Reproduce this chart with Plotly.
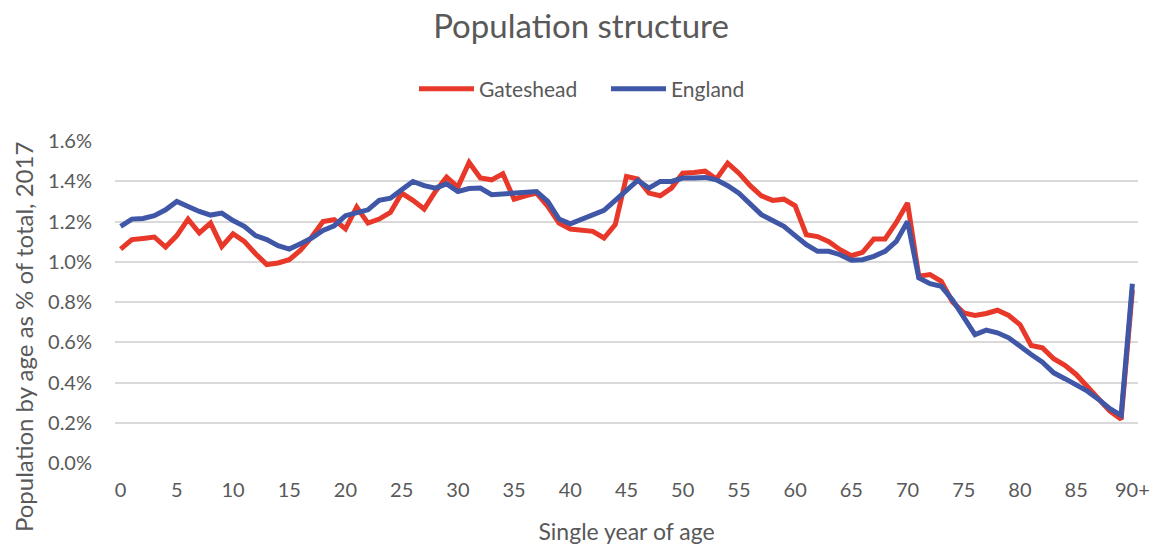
import plotly.graph_objects as go

# Single year of age categories (0..89, then 90+)
ages = [str(a) for a in range(90)] + ["90+"]

# Share of total population at each single year of age, 2017 (%)
gateshead = [
    1.063, 1.110, 1.116, 1.123, 1.073, 1.130, 1.212, 1.143, 1.192, 1.076,
    1.139, 1.101, 1.040, 0.986, 0.994, 1.010, 1.057, 1.123, 1.200, 1.209,
    1.163, 1.272, 1.192, 1.212, 1.245, 1.341, 1.305, 1.262, 1.349, 1.420,
    1.371, 1.493, 1.416, 1.407, 1.437, 1.311, 1.328, 1.341, 1.275, 1.192,
    1.163, 1.159, 1.151, 1.118, 1.184, 1.424, 1.411, 1.341, 1.328, 1.366,
    1.440, 1.444, 1.450, 1.411, 1.490, 1.440, 1.378, 1.328, 1.305, 1.311,
    1.278, 1.134, 1.125, 1.100, 1.060, 1.030, 1.047, 1.113, 1.113, 1.195,
    1.292, 0.928, 0.936, 0.903, 0.800, 0.746, 0.733, 0.743, 0.759, 0.733,
    0.688, 0.584, 0.572, 0.518, 0.485, 0.440, 0.379, 0.319, 0.258, 0.217,
    0.860,
]
england = [
    1.176, 1.212, 1.215, 1.229, 1.258, 1.300, 1.275, 1.250, 1.232, 1.242,
    1.205, 1.176, 1.130, 1.110, 1.080, 1.063, 1.090, 1.118, 1.156, 1.179,
    1.229, 1.242, 1.258, 1.305, 1.316, 1.358, 1.399, 1.378, 1.366, 1.387,
    1.349, 1.364, 1.366, 1.333, 1.338, 1.341, 1.349, 1.349, 1.300, 1.212,
    1.189, 1.209, 1.234, 1.255, 1.305, 1.358, 1.404, 1.366, 1.399, 1.399,
    1.416, 1.416, 1.419, 1.407, 1.378, 1.341, 1.288, 1.234, 1.205, 1.176,
    1.130, 1.085, 1.052, 1.052, 1.035, 1.007, 1.010, 1.027, 1.052, 1.101,
    1.200, 0.920, 0.891, 0.878, 0.810, 0.721, 0.638, 0.660, 0.647, 0.622,
    0.577, 0.539, 0.501, 0.448, 0.419, 0.390, 0.357, 0.316, 0.270, 0.237,
    0.891,
]

# Labelled ticks on both axes
x_ticks = ["0", "5", "10", "15", "20", "25", "30", "35", "40", "45",
           "50", "55", "60", "65", "70", "75", "80", "85", "90+"]
y_ticks = [0.0, 0.2, 0.4, 0.6, 0.8, 1.0, 1.2, 1.4, 1.6]
y_tick_labels = ["0.0%", "0.2%", "0.4%", "0.6%", "0.8%",
                 "1.0%", "1.2%", "1.4%", "1.6%"]

FONT = "Lato, 'Open Sans', sans-serif"
TEXT = "#595959"

fig = go.Figure()
fig.add_trace(go.Scatter(
    x=ages, y=gateshead, name="Gateshead", mode="lines",
    line=dict(color="#E8382A", width=5),
))
fig.add_trace(go.Scatter(
    x=ages, y=england, name="England", mode="lines",
    line=dict(color="#3F57A6", width=5),
))

fig.update_layout(
    width=1162, height=552,
    paper_bgcolor="white", plot_bgcolor="white",
    margin=dict(l=115, r=17, t=141, b=88),
    font=dict(family=FONT, color=TEXT, size=19),
    title=dict(text="Population structure", x=0.5, xanchor="center",
               xref="container", y=1 - 26 / 552, yanchor="middle",
               yref="container", font=dict(size=33, color=TEXT, family=FONT)),
    legend=dict(orientation="h", xref="container", x=414 / 1162,
                xanchor="left", yref="container", y=1 - 89 / 552,
                yanchor="middle",
                font=dict(size=21, color=TEXT, family=FONT),
                itemwidth=55, entrywidth=122, entrywidthmode="pixels",
                traceorder="normal", bgcolor="rgba(0,0,0,0)"),
    showlegend=True,
)

# Vertical axis title, centred on the chart body rather than the plot box
fig.add_annotation(
    text="Population by age as % of total, 2017",
    xref="paper", yref="paper",
    x=(23 - 115) / 1030, y=(464 - 338) / 323,
    xanchor="center", yanchor="middle", textangle=-90, showarrow=False,
    font=dict(size=24, color=TEXT, family=FONT),
)

fig.update_xaxes(
    type="category", categoryorder="array", categoryarray=ages,
    range=[-0.5, len(ages) - 0.5],
    tickmode="array", tickvals=x_ticks, ticktext=x_ticks,
    showgrid=False, showline=False, zeroline=False, ticks="",
    tickfont=dict(size=20, color=TEXT), ticklabelstandoff=13,
    title=dict(text="Single year of age", font=dict(size=23, color=TEXT),
               standoff=23),
)
fig.update_yaxes(
    range=[0, 1.6], tickmode="array", tickvals=y_ticks, ticktext=y_tick_labels,
    showgrid=True, gridcolor="#D9D9D9", gridwidth=2,
    zeroline=False, showline=False, ticks="",
    tickfont=dict(size=20, color=TEXT), ticklabelstandoff=22,
)

fig.write_html("out.html")
